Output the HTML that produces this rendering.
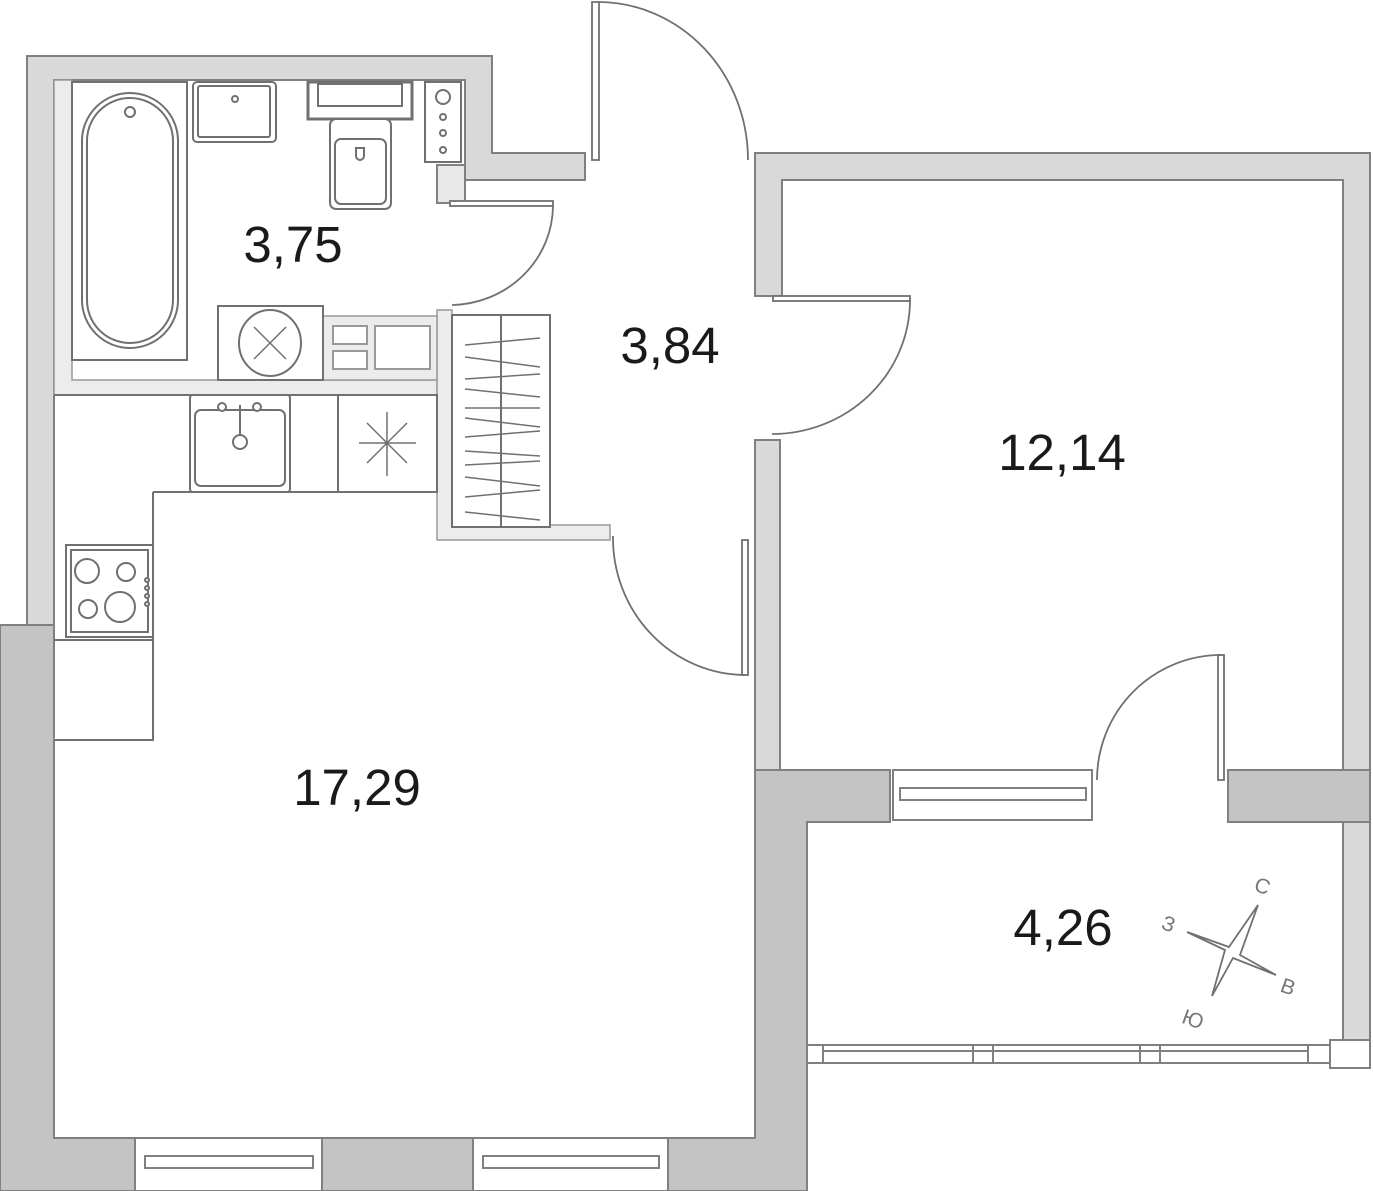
<!DOCTYPE html>
<html><head><meta charset="utf-8"><style>
html,body{margin:0;padding:0;background:#fff}
svg{display:block}
text{font-family:"Liberation Sans",sans-serif;fill:#1a1a1a}
</style></head><body>
<svg width="1373" height="1191" viewBox="0 0 1373 1191" xmlns="http://www.w3.org/2000/svg">
<g stroke="#808080" stroke-width="2" fill="#d9d9d9">
<path d="M27,56 H492 V153 H585 V180 H465 V80 H54 V625 H27 Z"/>
<rect x="437" y="165" width="28" height="38" fill="#e8e8e8"/>
<path d="M755,153 H1370 V770 H1343 V180 H782 V296 H755 Z"/>
<rect x="755" y="440" width="25" height="330"/>
<rect x="1343" y="822" width="27" height="218"/>
</g>
<g stroke="#999" stroke-width="1.5" fill="#ececec">
<path d="M54,80 H72 V380 H437 V395 H54 Z"/>
<path d="M437,310 H452 V525 H610 V540 H437 Z"/>
<rect x="323" y="316" width="114" height="64"/>
</g>
<g stroke="#808080" stroke-width="2" fill="#c4c4c4">
<path d="M0,625 H54 V1138 H135 V1191 H0 Z"/>
<rect x="322" y="1138" width="151" height="53"/>
<path d="M668,1138 H755 V770 H890 V822 H807 V1191 H668 Z"/>
<rect x="1228" y="770" width="142" height="52"/>
</g>
<g stroke="#808080" stroke-width="2" fill="#fff">
<rect x="135" y="1138" width="187" height="53"/>
<rect x="145" y="1156" width="168" height="12"/>
<rect x="473" y="1138" width="195" height="53"/>
<rect x="483" y="1156" width="176" height="12"/>
<rect x="893" y="770" width="199" height="50"/>
<rect x="900" y="788" width="186" height="12"/>
<rect x="807" y="1045" width="523" height="18"/>
<line x1="823" y1="1045" x2="823" y2="1063"/><line x1="973" y1="1045" x2="973" y2="1063"/>
<line x1="993" y1="1045" x2="993" y2="1063"/><line x1="1140" y1="1045" x2="1140" y2="1063"/>
<line x1="1160" y1="1045" x2="1160" y2="1063"/><line x1="1308" y1="1045" x2="1308" y2="1063"/>
<line x1="823" y1="1051" x2="1308" y2="1051"/>
<rect x="1330" y="1040" width="40" height="28"/>
</g>
<g stroke="#707070" stroke-width="1.8" fill="none">
<rect x="592" y="2" width="7" height="158" fill="#fff"/>
<path d="M599,2 A150,158 0 0 1 748,160"/>
<rect x="450" y="201" width="103" height="5" fill="#fff"/>
<path d="M553,206 A103,100 0 0 1 452,305"/>
<rect x="773" y="296" width="137" height="5" fill="#fff"/>
<path d="M910,301 A138,134 0 0 1 772,434"/>
<rect x="742" y="540" width="6" height="135" fill="#fff"/>
<path d="M745,675 A133,137 0 0 1 613,536"/>
<rect x="1218" y="655" width="6" height="125" fill="#fff"/>
<path d="M1221,655 A124,125 0 0 0 1097,780"/>
</g>
<g stroke="#707070" stroke-width="2" fill="#fff">
<rect x="72" y="82" width="115" height="278" fill="#fff"/>
<rect x="82" y="93" width="96" height="255" rx="48"/>
<rect x="87" y="98" width="86" height="245" rx="43"/>
<circle cx="130" cy="112" r="5"/>
<rect x="193" y="82" width="83" height="60" rx="4"/>
<rect x="198" y="86" width="72" height="51" rx="2"/>
<circle cx="235" cy="99" r="3"/>
<rect x="308" y="82" width="104" height="37" stroke-width="3"/>
<rect x="318" y="84" width="84" height="22"/>
<rect x="330" y="119" width="61" height="90" rx="6"/>
<rect x="335" y="139" width="51" height="65" rx="6"/>
<path d="M356,148 v8 a4,4 0 0 0 8,0 v-8 z"/>
<rect x="425" y="82" width="36" height="80" fill="#fff"/>
<circle cx="443" cy="97" r="7"/><circle cx="443" cy="117" r="3"/><circle cx="443" cy="133" r="3"/><circle cx="443" cy="150" r="3"/>
<rect x="218" y="306" width="105" height="74"/>
<ellipse cx="270" cy="343" rx="31" ry="33"/>
<path d="M254,327 L286,359 M286,327 L254,359" stroke-width="1.5"/>
<rect x="333" y="326" width="34" height="18" stroke="#999"/>
<rect x="333" y="351" width="34" height="18" stroke="#999"/>
<rect x="375" y="326" width="55" height="43" stroke="#999"/>
<line x1="54" y1="395" x2="437" y2="395"/>
<rect x="190" y="395" width="100" height="97" rx="3"/>
<rect x="195" y="410" width="90" height="76" rx="6"/>
<circle cx="222" cy="407" r="4"/><circle cx="257" cy="407" r="4"/>
<line x1="240" y1="405" x2="240" y2="440"/><circle cx="240" cy="442" r="7"/>
<rect x="338" y="395" width="99" height="97"/>
<path d="M387,412 V476 M359,443 H416 M367,423 L407,463 M407,423 L367,463" stroke-width="1.5"/>
<path d="M153,492 H437 M153,492 V740 H54"/>
<rect x="66" y="545" width="87" height="92"/>
<rect x="71" y="550" width="77" height="82"/>
<circle cx="87" cy="571" r="12"/><circle cx="126" cy="572" r="9"/>
<circle cx="88" cy="609" r="9"/><circle cx="120" cy="607" r="15"/>
<circle cx="147" cy="580" r="2"/><circle cx="147" cy="588" r="2"/><circle cx="147" cy="596" r="2"/><circle cx="147" cy="604" r="2"/>
<line x1="54" y1="640" x2="153" y2="640"/>
<rect x="452" y="315" width="98" height="212"/>
<line x1="501" y1="315" x2="501" y2="527"/>
</g>
<g stroke="#707070" stroke-width="1.5">
<path d="M465,345 L540,338 M465,357 L540,367 M465,379 L540,374 M465,389 L540,397 M465,408 L540,408 M465,418 L540,427 M465,437 L540,431 M465,451 L540,456 M465,465 L540,461 M465,477 L540,486 M465,497 L540,490 M465,512 L540,520"/>
</g>
<g stroke="#707070" stroke-width="1.8" fill="#fff">
<path d="M1258,905 L1240,955 L1276,975 L1233,958 L1212,996 L1225,950 L1187,932 L1229,947 Z"/>
</g>
<g font-size="21">
<text x="1255" y="894" style="fill:#777" transform="rotate(20 1265 886)">С</text>
<text x="1163" y="932" style="fill:#777" transform="rotate(20 1172 922)">З</text>
<text x="1282" y="995" style="fill:#777" transform="rotate(20 1292 985)">В</text>
<text x="1183" y="1027" style="fill:#777" transform="rotate(20 1195 1018)">Ю</text>
</g>
<g font-size="51" style="fill:#222">
<text x="293" y="262" text-anchor="middle">3,75</text>
<text x="670" y="363" text-anchor="middle">3,84</text>
<text x="1062" y="470" text-anchor="middle">12,14</text>
<text x="357" y="805" text-anchor="middle">17,29</text>
<text x="1063" y="945" text-anchor="middle">4,26</text>
</g>
</svg>
</body></html>
